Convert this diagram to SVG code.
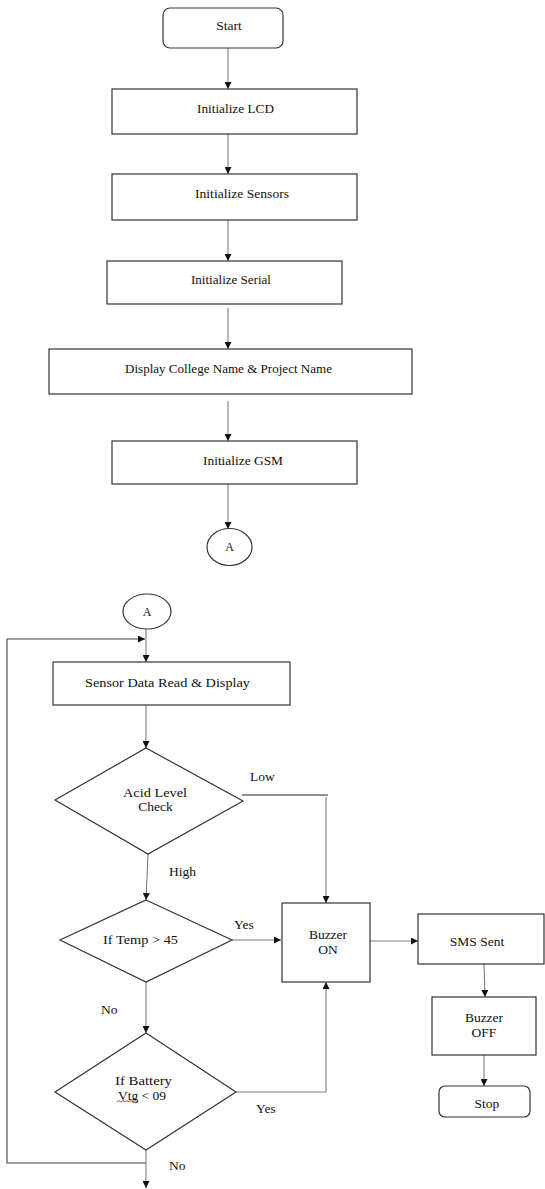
<svg xmlns="http://www.w3.org/2000/svg" width="545" height="1189" viewBox="0 0 545 1189" font-family="'Liberation Serif', 'Times New Roman', serif">
<style>
.box{fill:#fff;stroke:#333;stroke-width:1.2}
.t{font-family:'Liberation Serif','Times New Roman',serif;font-size:13.5px;fill:#111;text-anchor:middle;dominant-baseline:central}
.lbl{font-family:'Liberation Serif','Times New Roman',serif;font-size:13.5px;fill:#111;dominant-baseline:central}
.c{fill:none;stroke:#808080;stroke-width:1.1}
.cd{fill:none;stroke:#222;stroke-width:1.1}
</style>
<defs>
<marker id="ah" viewBox="0 0 10 10" refX="10" refY="5" markerWidth="7" markerHeight="7" markerUnits="userSpaceOnUse" orient="auto">
<path d="M0,0 L10,5 L0,10 z" fill="#111"/>
</marker>
</defs>
<rect width="545" height="1189" fill="#fff"/>

<g id="connectors">
<line class="c" x1="228" y1="48" x2="228" y2="89" marker-end="url(#ah)"/>
<line class="c" x1="228" y1="134" x2="228" y2="174" marker-end="url(#ah)"/>
<line class="c" x1="228" y1="220" x2="228" y2="261" marker-end="url(#ah)"/>
<line class="c" x1="228" y1="308" x2="228" y2="349" marker-end="url(#ah)"/>
<line class="c" x1="228" y1="401" x2="228" y2="441" marker-end="url(#ah)"/>
<line class="c" x1="228" y1="484" x2="228" y2="529" marker-end="url(#ah)"/>
<line class="c" x1="146" y1="629" x2="146" y2="662" marker-end="url(#ah)"/>
<polyline class="cd" style="stroke:#444" points="146,1163 7,1163 7,639 145,639" marker-end="url(#ah)"/>
<line class="c" x1="146" y1="705" x2="146" y2="748" marker-end="url(#ah)"/>
<line class="cd" x1="242" y1="795" x2="328" y2="795"/>
<line class="c" x1="326" y1="797" x2="326" y2="903" marker-end="url(#ah)"/>
<line class="c" x1="148" y1="854" x2="146" y2="900" marker-end="url(#ah)"/>
<line class="c" x1="232" y1="940" x2="281" y2="940" marker-end="url(#ah)"/>
<line class="c" x1="370" y1="941" x2="418" y2="941" marker-end="url(#ah)"/>
<line class="c" x1="484" y1="964" x2="485" y2="997" marker-end="url(#ah)"/>
<line class="c" x1="484" y1="1055" x2="484" y2="1086" marker-end="url(#ah)"/>
<line class="c" x1="146" y1="982" x2="146" y2="1033" marker-end="url(#ah)"/>
<polyline class="c" points="236,1092 326,1092 326,982" marker-end="url(#ah)"/>
<line class="c" x1="146" y1="1150" x2="146" y2="1188" marker-end="url(#ah)"/>
<text class="lbl" x="250" y="776">Low</text>
<text class="lbl" x="169" y="871">High</text>
<text class="lbl" x="234" y="924">Yes</text>
<text class="lbl" x="101" y="1009">No</text>
<text class="lbl" x="256" y="1108">Yes</text>
<text class="lbl" x="169" y="1165">No</text>
</g>

<g id="start">
<rect class="box" x="163" y="8" width="120" height="40" rx="7"/>
<text class="t" x="229" y="25">Start</text>
</g>
<g id="init-lcd">
<rect class="box" x="112" y="89" width="245" height="45"/>
<text class="t" x="235.5" y="108" textLength="77" lengthAdjust="spacingAndGlyphs">Initialize LCD</text>
</g>
<g id="init-sensors">
<rect class="box" x="112" y="174" width="245" height="46"/>
<text class="t" x="242" y="193" textLength="94" lengthAdjust="spacingAndGlyphs">Initialize Sensors</text>
</g>
<g id="init-serial">
<rect class="box" x="107" y="261" width="235" height="43"/>
<text class="t" x="231" y="279" textLength="80" lengthAdjust="spacingAndGlyphs">Initialize Serial</text>
</g>
<g id="display-names">
<rect class="box" x="49" y="349" width="363" height="45"/>
<text class="t" x="228.5" y="368" textLength="207" lengthAdjust="spacingAndGlyphs">Display College Name &amp; Project Name</text>
</g>
<g id="init-gsm">
<rect class="box" x="112" y="441" width="245" height="43"/>
<text class="t" x="243" y="460" textLength="80" lengthAdjust="spacingAndGlyphs">Initialize GSM</text>
</g>
<g id="connector-a1">
<ellipse class="box" cx="229.5" cy="547" rx="22.5" ry="18.5"/>
<text class="t" x="229.5" y="547" style="font-size:12px">A</text>
</g>
<g id="connector-a2">
<ellipse class="box" cx="147" cy="611.5" rx="24" ry="17.5"/>
<text class="t" x="147" y="611.5" style="font-size:12px">A</text>
</g>
<g id="sensor-read">
<rect class="box" x="53" y="662" width="237" height="43"/>
<text class="t" x="167.5" y="682" textLength="165" lengthAdjust="spacingAndGlyphs">Sensor Data Read &amp; Display</text>
</g>
<g id="acid-check">
<polygon class="box" points="146,748 243,801 148,854 55,800"/>
<text class="t" x="155" y="792" textLength="64" lengthAdjust="spacingAndGlyphs">Acid Level</text>
<text class="t" x="155.5" y="806">Check</text>
</g>
<g id="temp-check">
<polygon class="box" points="146,900 232,940 146,982 60,940"/>
<text class="t" x="140.5" y="939" textLength="75" lengthAdjust="spacingAndGlyphs">If Temp &gt; 45</text>
</g>
<g id="battery-check">
<polygon class="box" points="146,1033 236,1092 146,1150 55,1092"/>
<text class="t" x="143.5" y="1080" textLength="57" lengthAdjust="spacingAndGlyphs">If Battery</text>
<text class="t" x="142" y="1095">Vtg &lt; 09</text>
<path d="M117,1102 l2,-1.5 l2,1.5 l2,-1.5 l2,1.5 l2,-1.5 l2,1.5 l2,-1.5 l2,1.5 l2,-1.5 l2,1.5" fill="none" stroke="#e03030" stroke-width="0.9"/>
</g>
<g id="buzzer-on">
<rect class="box" x="282" y="903" width="88" height="79"/>
<text class="t" x="328" y="934">Buzzer</text>
<text class="t" x="328" y="949">ON</text>
</g>
<g id="sms-sent">
<rect class="box" x="418" y="914" width="126" height="50"/>
<text class="t" x="477" y="941">SMS Sent</text>
</g>
<g id="buzzer-off">
<rect class="box" x="432" y="997" width="104" height="58"/>
<text class="t" x="484" y="1017">Buzzer</text>
<text class="t" x="484" y="1032">OFF</text>
</g>
<g id="stop">
<rect class="box" x="439" y="1086" width="91" height="31" rx="6"/>
<text class="t" x="487" y="1103">Stop</text>
</g>
</svg>
